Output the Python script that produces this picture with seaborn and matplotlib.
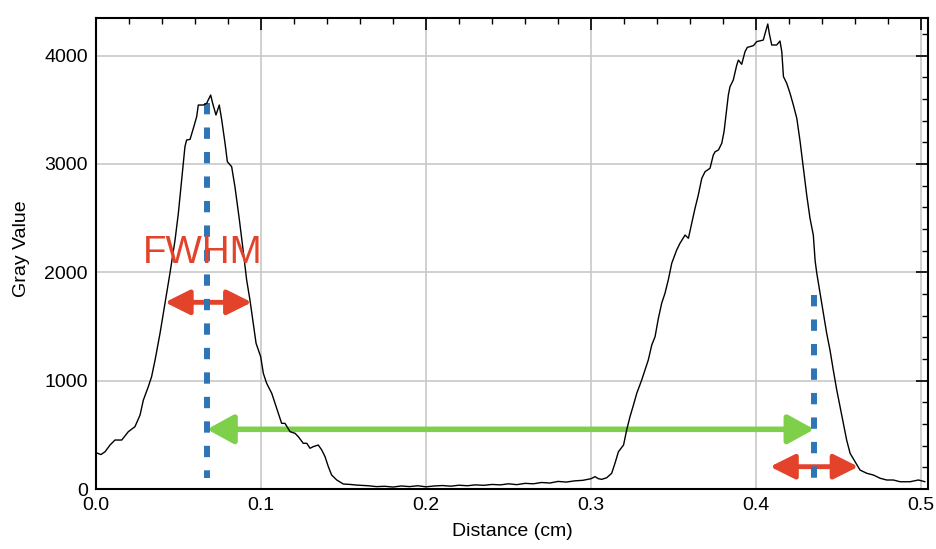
import pandas as pd
import seaborn as sns
import matplotlib.pyplot as plt
from matplotlib.ticker import MultipleLocator

# profile
distance = [
    0.0000, 0.0030, 0.0055, 0.0085, 0.0115, 0.0156, 0.0196, 0.0236, 0.0267, 0.0287,
    0.0317, 0.0337, 0.0358, 0.0388, 0.0408, 0.0428, 0.0448, 0.0479, 0.0499, 0.0519,
    0.0539, 0.0549, 0.0570, 0.0590, 0.0610, 0.0620, 0.0650, 0.0671, 0.0680, 0.0695,
    0.0707, 0.0727, 0.0747, 0.0762, 0.0782, 0.0796, 0.0822, 0.0842, 0.0869, 0.0889,
    0.0903, 0.0913, 0.0933, 0.0953, 0.0970, 0.0998, 0.1014, 0.1034, 0.1065, 0.1085,
    0.1105, 0.1125, 0.1145, 0.1176, 0.1206, 0.1226, 0.1256, 0.1277, 0.1297, 0.1317,
    0.1347, 0.1368, 0.1388, 0.1408, 0.1428, 0.1459, 0.1499, 0.1540, 0.1580, 0.1620,
    0.1650, 0.1700, 0.1750, 0.1800, 0.1850, 0.1900, 0.1950, 0.2000, 0.2050, 0.2100,
    0.2150, 0.2200, 0.2250, 0.2300, 0.2350, 0.2400, 0.2450, 0.2500, 0.2550, 0.2600,
    0.2650, 0.2700, 0.2750, 0.2800, 0.2850, 0.2900, 0.2950, 0.3000, 0.3024, 0.3045,
    0.3065, 0.3095, 0.3125, 0.3145, 0.3166, 0.3197, 0.3216, 0.3236, 0.3257, 0.3277,
    0.3307, 0.3327, 0.3347, 0.3368, 0.3388, 0.3408, 0.3428, 0.3448, 0.3468, 0.3489,
    0.3519, 0.3539, 0.3570, 0.3590, 0.3610, 0.3630, 0.3650, 0.3671, 0.3691, 0.3721,
    0.3741, 0.3752, 0.3772, 0.3792, 0.3806, 0.3818, 0.3832, 0.3842, 0.3862, 0.3883,
    0.3893, 0.3913, 0.3933, 0.3947, 0.3984, 0.4004, 0.4044, 0.4055, 0.4071, 0.4080,
    0.4095, 0.4125, 0.4145, 0.4156, 0.4166, 0.4186, 0.4206, 0.4226, 0.4247, 0.4267,
    0.4287, 0.4307, 0.4327, 0.4347, 0.4358, 0.4368, 0.4388, 0.4408, 0.4428, 0.4448,
    0.4468, 0.4489, 0.4509, 0.4529, 0.4549, 0.4570, 0.4600, 0.4630, 0.4671, 0.4711,
    0.4752, 0.4792, 0.4832, 0.4873, 0.4933, 0.4984, 0.5024,
]
gray = [
    335, 318, 344, 406, 452, 452, 529, 575, 683, 821,
    944, 1037, 1191, 1437, 1622, 1806, 1990, 2298, 2544, 2852,
    3159, 3221, 3227, 3329, 3436, 3544, 3544, 3560, 3590, 3636,
    3560, 3452, 3544, 3406, 3190, 3021, 2975, 2790, 2483, 2236,
    2052, 1929, 1744, 1529, 1345, 1221, 1068, 976, 883, 791,
    699, 606, 606, 529, 514, 483, 422, 422, 376, 391,
    406, 360, 298, 206, 129, 83, 46, 42, 36, 32,
    30, 22, 25, 18, 28, 22, 30, 20, 28, 32,
    26, 35, 30, 38, 34, 42, 38, 48, 40, 52,
    48, 60, 55, 70, 64, 75, 80, 95, 114, 95,
    89, 104, 145, 237, 344, 406, 545, 667, 775, 883,
    1006, 1098, 1191, 1329, 1406, 1575, 1714, 1806, 1929, 2083,
    2206, 2268, 2344, 2314, 2452, 2590, 2713, 2867, 2929, 2960,
    3083, 3113, 3129, 3190, 3298, 3452, 3636, 3713, 3775, 3913,
    3959, 3920, 4036, 4076, 4092, 4129, 4144, 4206, 4292, 4206,
    4098, 4098, 4135, 4036, 3806, 3744, 3652, 3544, 3421, 3206,
    2960, 2713, 2498, 2344, 2106, 1991, 1806, 1622, 1437, 1283,
    1098, 914, 760, 606, 452, 329, 252, 175, 145, 129,
    99, 83, 83, 67, 67, 83, 67,
]

# annotations (data units)
peak_centres = [0.0673, 0.4353]
peak_tops = [3560, 1790]
dash_bottom = 100
fwhm_spans = [(0.0418, 0.0944, 1723), (0.4085, 0.4620, 206)]
sep_span = (0.0673, 0.4353, 551)
fwhm_label = (0.0285, 2086, 'FWHM')

BLUE = '#2E75B6'
RED = '#E2432A'
GREEN = '#7ED04B'

sns.set_style('white')
plt.rcParams['font.family'] = ['Liberation Sans', 'DejaVu Sans']
plt.rcParams['text.color'] = 'black'
plt.rcParams['axes.labelcolor'] = 'black'

fig = plt.figure(figsize=(9.37, 5.49), dpi=100)
ax = fig.add_axes([96 / 937, 60 / 549, 832 / 937, 471.3 / 549])

df = pd.DataFrame({'Distance (cm)': distance, 'Gray Value': gray})
sns.lineplot(data=df, x='Distance (cm)', y='Gray Value', color='black', lw=1.0,
             estimator=None, sort=False, ax=ax, zorder=6)

ax.set_xlim(0, 0.5042)
ax.set_ylim(0, 4350)
ax.xaxis.set_major_locator(MultipleLocator(0.1))
ax.xaxis.set_minor_locator(MultipleLocator(0.02))
ax.yaxis.set_major_locator(MultipleLocator(1000))
ax.yaxis.set_minor_locator(MultipleLocator(200))
ax.grid(True, which='major', color='#c8c8c8', lw=1.2)
ax.set_axisbelow(True)
ax.tick_params(which='both', direction='in', top=True, right=True,
               colors='black', labelsize=14, pad=6)
ax.tick_params(which='major', length=8.5, width=1.2)
ax.tick_params(which='minor', length=4.3, width=1.0)
for s in ax.spines.values():
    s.set_color('black')
    s.set_linewidth(1.5)

ax.set_xlabel('Distance (cm)', fontsize=14)
ax.set_ylabel('Gray Value', fontsize=14)
ax.xaxis.set_label_coords(0.501, -0.091)
ax.xaxis.label.set_va('center')
ax.yaxis.set_label_coords(-0.089, 0.51)
ax.yaxis.label.set_va('center')

# blue dashed centre lines
for xc, top in zip(peak_centres, peak_tops):
    ax.plot([xc, xc], [top, dash_bottom], color=BLUE, lw=4.3,
            dashes=(1.9, 2.2), zorder=5)

# red FWHM arrows
for x0, x1, yv in fwhm_spans:
    ax.annotate('', xy=(x1, yv), xytext=(x0, yv),
                arrowprops=dict(arrowstyle='<|-|>,head_length=1.0,head_width=0.5',
                                mutation_scale=15, lw=3.5, color=RED,
                                shrinkA=0, shrinkB=0), zorder=4)

# green separation arrow
ax.annotate('', xy=(sep_span[1], sep_span[2]), xytext=(sep_span[0], sep_span[2]),
            arrowprops=dict(arrowstyle='<|-|>,head_length=1.0,head_width=0.55',
                            mutation_scale=16, lw=4.0, color=GREEN,
                            shrinkA=0, shrinkB=0), zorder=4)

ax.text(fwhm_label[0], fwhm_label[1], fwhm_label[2], color=RED, fontsize=27.7,
        ha='left', va='baseline', zorder=7)

fig.savefig('out.png', dpi=100)
